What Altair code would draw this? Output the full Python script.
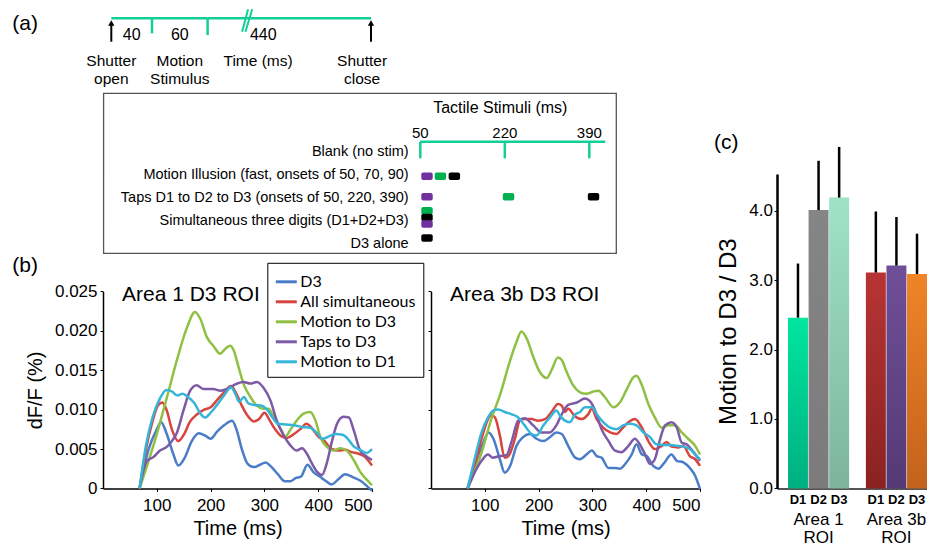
import altair as alt
import pandas as pd

FONT = "Liberation Sans"

# ---------------- (a) shutter timeline (schematic ms) ----------------
tl_edges = [0, 40, 100, 540]
tl_seg_text = ["40", "60", "440"]
tl_seg_text_t = [20, 70, 250]
tl_event_text = ["Shutter\nopen", "Motion\nStimulus", "Shutter\nclose"]
tl_event_t = [0, 70, 516]
tl_arrow_t = [0, 540]
tl_break_t0 = [193, 202]
tl_break_t1 = [209, 220]

# ---------------- (a) tactile stimuli ----------------
tac_rows = ["Blank (no stim)",
            "Motion Illusion (fast, onsets of 50, 70, 90)",
            "Taps D1 to D2 to D3 (onsets of 50, 220, 390)",
            "Simultaneous three digits (D1+D2+D3)",
            "D3 alone"]
tac_ticks = [50, 220, 390]
tac_line_end = 422
blk_row = [1, 1, 1, 2, 2, 2, 3, 3, 3, 4]
blk_digit = ["D1", "D2", "D3", "D1", "D2", "D3", "D2", "D3", "D1", "D3"]
blk_level = [0, 0, 0, 0, 0, 0, -1, 0, 1, 0]
blk_start = [52, 79, 107, 52, 216, 387, 52, 52, 52, 52]
blk_dur = 23
digits = ["D1", "D2", "D3"]

# ---------------- (b) dF/F traces (values x 0.001) ----------------
series_names = ["D3", "All simultaneous", "Motion to D3", "Taps to D3", "Motion to D1"]

a1_ms = {
    "D3": [68,85,100,108,118,130,140,152,165,178,190,200,212,225,240,248,258,268,280,292,302,312,325,338,348,358,368,380,392,403,415,425,438,450,465,480,492,500],
    "All simultaneous": [68,80,92,102,110,118,128,140,150,162,175,188,200,212,225,238,248,258,268,280,290,300,310,320,332,342,355,368,378,390,400,412,425,438,450,462,475,485,500],
    "Motion to D3": [68,81,100,119,137,156,171,181,193,205,218,227,236,243,252,261,274,286,298,308,317,330,339,348,360,373,385,395,404,416,429,441,453,466,478,491,500],
    "Taps to D3": [68,81,94,106,119,128,137,150,162,174,187,205,218,230,249,261,274,286,298,311,323,336,348,360,370,379,388,398,407,416,426,435,447,457,466,478,491,500],
    "Motion to D1": [68,80,92,105,118,128,138,148,158,170,182,190,200,212,225,238,246,253,262,270,280,295,305,315,325,340,355,370,385,398,408,420,432,445,455,465,478,490,500],
}
a1_val = {
    "D3": [0,5.0,7.5,8.4,7.0,4.5,2.9,3.9,6.0,7.0,6.7,6.3,7.2,8.0,8.6,7.5,5.0,3.2,2.7,3.0,3.3,2.8,1.8,0.9,0.9,1.3,1.5,3.0,2.0,1.5,0.9,0.5,1.2,1.8,1.4,0.9,0.2,-0.3],
    "All simultaneous": [0,5.0,8.5,10.5,10.9,10.0,7.5,6.0,6.8,8.5,9.4,10.0,10.3,11.2,12.2,13.0,12.0,10.5,9.3,8.5,8.8,9.6,8.6,7.5,6.6,6.4,6.9,7.6,8.2,7.5,6.6,6.0,5.0,4.8,4.9,4.6,4.4,4.1,2.9],
    "Motion to D3": [0,2.7,6.9,11.6,16.2,20.4,22.4,21.5,19.2,18.1,17.1,17.7,18.1,17.5,15.4,13.3,11.6,10.5,10.1,10.1,9.05,7.6,6.6,7.4,8.6,9.5,9.7,8.6,6.5,5.3,4.8,5.1,4.8,3.6,2.1,1.05,0.4],
    "Taps to D3": [0,3.4,4.0,4.8,5.3,6.0,7.0,10.0,12.4,13.1,12.6,12.6,12.4,12.6,13.3,13.5,13.3,13.5,12.8,11.2,8.6,6.7,5.5,4.8,5.1,4.4,3.2,2.1,1.7,3.2,6.1,8.2,9.1,9.0,7.4,4.8,4.0,3.6],
    "Motion to D1": [0,5.5,9.0,11.3,12.5,12.3,11.8,12.0,11.6,10.8,9.4,9.0,9.6,10.6,11.8,12.8,12.0,11.0,11.6,10.8,10.6,10.5,10.0,9.0,8.2,8.1,8.0,7.8,7.7,7.0,6.3,6.6,6.9,6.8,6.3,5.4,4.9,4.5,5.0],
}
a3_ms = {
    "D3": [68,81,97,107,116,128,137,147,159,171,184,196,209,221,233,243,255,268,277,289,299,308,317,330,342,351,361,373,382,392,401,413,423,432,447,457,469,481,491,500],
    "All simultaneous": [68,81,94,106,112,119,128,137,144,156,165,174,187,199,212,224,236,243,249,255,267,280,292,299,308,320,333,345,354,367,379,392,404,416,429,438,447,460,469,481,491,500],
    "Motion to D3": [68,94,112,128,146,159,168,178,190,202,215,224,236,243,252,264,277,289,302,311,323,339,351,364,376,382,392,404,416,429,441,454,466,478,491,500],
    "Taps to D3": [68,81,94,106,115,128,140,150,162,174,190,205,221,233,243,255,271,286,295,305,317,330,342,354,367,379,388,398,407,416,426,435,447,457,466,475,488,500],
    "Motion to D1": [68,81,94,106,116,125,137,150,162,174,187,196,209,221,233,240,249,258,268,277,286,299,308,320,333,345,357,370,382,395,407,419,432,444,457,469,481,491,500],
}
a3_val = {
    "D3": [0,2.85,5.8,7.1,6.3,3.7,2.0,2.85,5.4,6.5,6.9,6.3,6.0,6.5,7.1,6.9,5.4,3.9,3.7,4.3,4.8,4.1,3.9,2.6,2.6,2.5,3.1,4.3,5.6,4.3,4.1,2.85,2.5,3.1,4.3,3.5,3.3,2.6,1.6,-0.1],
    "All simultaneous": [0,2.85,6.3,8.8,9.3,9.0,6.7,3.9,4.1,6.3,8.6,8.8,8.8,8.6,8.8,9.7,10.7,10.5,9.7,10.1,9.2,8.8,9.4,10.1,8.8,7.7,7.1,6.9,7.5,8.4,8.8,7.7,6.0,5.0,5.4,5.9,5.3,5.2,5.4,4.1,3.7,2.85],
    "Motion to D3": [0,4.55,8.8,11.8,16.0,18.6,19.9,19.0,16.7,14.8,14.0,15.0,16.6,16.3,14.8,13.1,12.2,12.0,12.3,12.4,11.6,10.3,10.9,12.6,14.1,14.3,13.1,10.7,9.0,7.7,8.0,8.0,7.1,6.3,5.4,4.3],
    "Taps to D3": [0,2.0,3.5,4.3,3.9,4.1,4.2,6.0,8.6,8.9,8.0,7.1,7.1,8.0,9.4,10.6,10.9,11.4,11.1,9.9,7.5,6.0,4.8,4.6,5.4,6.3,5.6,4.3,3.1,3.7,6.3,8.0,8.4,7.7,5.8,5.6,4.6,3.5],
    "Motion to D1": [0,3.7,7.1,9.0,9.9,10.0,9.7,9.4,9.0,8.0,6.9,6.7,8.0,9.0,9.9,9.2,8.6,8.4,9.4,9.7,10.3,10.3,9.4,8.4,7.7,7.5,8.0,8.2,8.0,7.1,6.5,5.6,5.5,5.5,5.4,5.3,5.0,4.3,3.7],
}
b_xticks = [100, 200, 300, 400, 500]
b_yticks = [0, 0.005, 0.010, 0.015, 0.020, 0.025]

# ---------------- (c) ratio bars ----------------
c_area = ["Area 1|ROI"] * 3 + ["Area 3b|ROI"] * 3
c_digit = ["D1", "D2", "D3"] * 2
c_ratio = [2.46, 4.01, 4.19, 3.11, 3.21, 3.09]
c_upper = [3.24, 4.72, 4.92, 3.99, 3.91, 3.67]
c_yticks = [0, 1, 2, 3, 4]

# ---------------- styles ----------------
GREEN = "#12cf96"
blk_colors = ["#7030a0", "#00b050", "#000000"]
series_colors = ["#4a7cc8", "#d9443f", "#8fc043", "#7d5aa6", "#35b5d8"]
bar_top = ["#00e6a0", "#858585", "#9fe3c6", "#b83434", "#6f4f98", "#f08426"]
bar_bot = ["#00b080", "#7b7b7b", "#7db59c", "#8a2222", "#553a75", "#c4621c"]

# ---------------- layout ----------------
OX0, OY0 = 102.7, 8.0          # page position of the panel-(a)/(b) frame origin
AW, AH = 597.0, 282.0          # extent of panel (a) drawing coordinates
ROW_TOP = 173.9                # page y of the bottom-row frames
BW, BH = 269.0, 197.0
CW, CH = 150.0, 314.4
GAP = 59.0
C_LEFT = 776.0
B2_EXTRA = C_LEFT - (OX0 + 2 * BW + 2 * GAP)   # spare width right of b2 so that (c) lands at C_LEFT


def px_x(f):
    return alt.X(f, type="quantitative", scale=alt.Scale(domain=[OX0, OX0 + AW], range=[0, AW], nice=False), axis=None)


def px_y(f):
    return alt.Y(f, type="quantitative", scale=alt.Scale(domain=[OY0, OY0 + AH], range=[0, AH], nice=False), axis=None)


TL_RANGE = [111 - OX0, 151.7 - OX0, 207.3 - OX0, 370.7 - OX0]


def tl_x(f):
    return alt.X(f, type="quantitative", scale=alt.Scale(domain=tl_edges, range=TL_RANGE, nice=False), axis=None)


def ms_x(f):
    return alt.X(f, type="quantitative", scale=alt.Scale(domain=[50, 390], range=[420 - OX0, 589 - OX0], nice=False), axis=None)


def row_y(f):
    return alt.Y(f, type="quantitative", scale=alt.Scale(domain=[0, 4], range=[151.7 - OY0, 244 - OY0], nice=False), axis=None)


# ---- panel A layers ----
tl_h = pd.DataFrame({"t0": tl_edges[:-1], "t1": tl_edges[1:], "y": 18.3})
tl_v = pd.DataFrame({"t": tl_edges[1:3], "y0": 18.3, "y1": [33.3, 35.0]})
tl_b = pd.DataFrame({"t0": tl_break_t0, "t1": tl_break_t1, "y0": 31.7, "y1": 9.3})
tl_a = pd.DataFrame({"t": tl_arrow_t, "y0": 41.7, "y1": 25.0, "yh": 23.0})
tl_s = pd.DataFrame({"t": tl_seg_text_t, "text": tl_seg_text, "y": 35.0})
tl_e = pd.DataFrame({"t": tl_event_t, "text": tl_event_text, "y": 54.0})
tl_title = pd.DataFrame({"t": [236], "text": ["Time (ms)"], "y": 61.0})

layers_a = [
    alt.Chart(tl_h).mark_rule(color=GREEN, strokeWidth=2.5).encode(x=tl_x("t0"), x2="t1", y=px_y("y")),
    alt.Chart(tl_v).mark_rule(color=GREEN, strokeWidth=2.5).encode(x=tl_x("t"), y=px_y("y0"), y2="y1"),
    alt.Chart(tl_b).mark_rule(color=GREEN, strokeWidth=2).encode(x=tl_x("t0"), x2="t1", y=px_y("y0"), y2="y1"),
    alt.Chart(tl_a).mark_rule(color="black", strokeWidth=2).encode(x=tl_x("t"), y=px_y("y0"), y2="y1"),
    alt.Chart(tl_a).mark_point(shape="triangle-up", filled=True, size=40, color="black", opacity=1).encode(x=tl_x("t"), y=px_y("yh")),
    alt.Chart(tl_s).mark_text(fontSize=16, baseline="middle").encode(x=tl_x("t"), y=px_y("y"), text="text:N"),
    alt.Chart(tl_title).mark_text(fontSize=15.5, baseline="middle").encode(x=tl_x("t"), y=px_y("y"), text="text:N"),
    alt.Chart(tl_e).mark_text(fontSize=15.5, baseline="top", lineBreak="\n", lineHeight=18).encode(x=tl_x("t"), y=px_y("y"), text="text:N"),
]

a_lab = pd.DataFrame({"x": [12.0], "y": [24.0], "text": ["(a)"]})
box = pd.DataFrame({"x0": [103.3], "x1": [616.0], "y0": [93.3], "y1": [253.3]})
tac_title = pd.DataFrame({"x": [500.0], "y": [108.3], "text": ["Tactile Stimuli (ms)"]})
layers_a += [
    alt.Chart(a_lab).mark_text(fontSize=21, align="left", baseline="middle").encode(x=px_x("x"), y=px_y("y"), text="text:N"),
    alt.Chart(box).mark_rect(fillOpacity=0, stroke="#555555", strokeWidth=1.3).encode(x=px_x("x0"), x2="x1", y=px_y("y0"), y2="y1"),
    alt.Chart(tac_title).mark_text(fontSize=16, baseline="middle").encode(x=px_x("x"), y=px_y("y"), text="text:N"),
]

tac_h = pd.DataFrame({"m0": [tac_ticks[0]], "m1": [tac_line_end], "r": [-0.433]})
tac_v = pd.DataFrame({"m": tac_ticks, "r0": -0.433, "r1": 0.286})
tac_l = pd.DataFrame({"m": tac_ticks, "text": [str(t) for t in tac_ticks], "r": -0.8})
row_l = pd.DataFrame({"x": 408.3, "r": list(range(len(tac_rows))), "text": tac_rows})
blk = pd.DataFrame({"row": blk_row, "digit": blk_digit, "level": blk_level, "start": blk_start})
blk["end"] = blk["start"] + blk_dur
blk["ypos"] = blk["row"] + blk["level"] * 0.32 - 0.05

layers_a += [
    alt.Chart(tac_h).mark_rule(color=GREEN, strokeWidth=2.5).encode(x=ms_x("m0"), x2="m1", y=row_y("r")),
    alt.Chart(tac_v).mark_rule(color=GREEN, strokeWidth=2.5).encode(x=ms_x("m"), y=row_y("r0"), y2="r1"),
    alt.Chart(tac_l).mark_text(fontSize=15, baseline="middle").encode(x=ms_x("m"), y=row_y("r"), text="text:N"),
    alt.Chart(row_l).mark_text(fontSize=14.5, align="right", baseline="middle").encode(x=px_x("x"), y=row_y("r"), text="text:N"),
    alt.Chart(blk).mark_bar(size=7.5, cornerRadius=2).encode(
        x=ms_x("start"), x2="end", y=row_y("ypos"),
        color=alt.Color("digit:N", scale=alt.Scale(domain=digits, range=blk_colors), legend=None)),
]

panel_a = alt.layer(*layers_a).resolve_scale(x="independent", y="independent").properties(
    width=AW, height=ROW_TOP - OY0)


# ---- panel B ----
def series_df(ms_d, val_d):
    frames = []
    for name in series_names:
        frames.append(pd.DataFrame({"series": name, "ms": ms_d[name], "dff": [v / 1000 for v in val_d[name]]}))
    return pd.concat(frames, ignore_index=True)


B_TOP = CH - BH  # frame-local y of the top of the b plots


def line_panel(df, title, left, frame_w):
    if left:
        yaxis = alt.Axis(values=b_yticks, labelExpr="datum.value == 0 ? '0' : format(datum.value, '.3f')",
                         title="dF/F (%)", titlePadding=9, labelPadding=3, tickSize=3)
        legend = alt.Legend(title=None, orient="none", legendX=267 - OX0, legendY=262.7 - ROW_TOP,
                            symbolType="stroke", symbolSize=441, symbolStrokeWidth=3, labelFont="Lato",
                            labelFontSize=16, labelColor="black", padding=7, strokeColor="black",
                            fillColor="white", rowPadding=0, labelOffset=2)
    else:
        yaxis = alt.Axis(values=b_yticks, labels=False, title=None, tickSize=3)
        legend = None
    lines = alt.Chart(df).mark_line(interpolate="monotone", strokeWidth=2.5).encode(
        x=alt.X("ms:Q", scale=alt.Scale(domain=[0, 500], range=[0, BW], nice=False),
                axis=alt.Axis(values=b_xticks, title="Time (ms)", tickSize=3, labelPadding=6, titlePadding=5)),
        y=alt.Y("dff:Q", scale=alt.Scale(domain=[0, 0.025], range=[CH, B_TOP], nice=False), axis=yaxis),
        color=alt.Color("series:N", scale=alt.Scale(domain=series_names, range=series_colors), legend=legend),
    )
    ttl = alt.Chart(pd.DataFrame({"t": [title]})).mark_text(align="left", baseline="middle", fontSize=21).encode(
        text="t:N", x=alt.value(19), y=alt.value(B_TOP + 3.5))
    layers = [lines, ttl]
    if left:
        layers.append(alt.Chart(pd.DataFrame({"t": ["(b)"]})).mark_text(align="left", baseline="middle", fontSize=21).encode(
            text="t:N", x=alt.value(12 - OX0), y=alt.value(266 - ROW_TOP)))
    return alt.layer(*layers).properties(width=frame_w, height=CH)


b1 = line_panel(series_df(a1_ms, a1_val), "Area 1 D3 ROI", True, BW)
b2 = line_panel(series_df(a3_ms, a3_val), "Area 3b D3 ROI", False, BW + B2_EXTRA)

# ---- panel C ----
c_df = pd.DataFrame({"area": c_area, "digit": c_digit, "ratio": c_ratio, "upper": c_upper})
c_df["key"] = c_df["area"] + "/" + c_df["digit"]
area_domain = ["Area 1|ROI", "Area 3b|ROI"]

x_c = alt.X("area:N", scale=alt.Scale(domain=area_domain, paddingInner=0.215, paddingOuter=0.0706, align=1),
            axis=alt.Axis(title=None, labelAngle=0, labelExpr="split(datum.label, '|')", labelFontSize=17,
                          labelLineHeight=18, labelPadding=23, labelBaseline="top", ticks=False,
                          domainColor="#555555", domainWidth=2))
xo_c = alt.XOffset("digit:N", scale=alt.Scale(domain=digits, paddingInner=0.03, paddingOuter=0))
y_c = alt.Y("ratio:Q", scale=alt.Scale(domain=[0, 4.53], nice=False),
            axis=alt.Axis(values=c_yticks, format=".1f", title="Motion to D3 / D3", titleFontSize=24,
                          labelFontSize=17, tickSize=3, labelPadding=1.5, titlePadding=8,
                          domainWidth=2.5, domainColor="black"))

c_layers = []
for k, top, bot in zip(c_df["key"], bar_top, bar_bot):
    grad = alt.Gradient(gradient="linear", x1=1, x2=1, y1=0, y2=1,
                        stops=[alt.GradientStop(color=top, offset=0), alt.GradientStop(color=bot, offset=1)])
    c_layers.append(alt.Chart(c_df).transform_filter(alt.datum.key == k).mark_bar(color=grad).encode(
        x=x_c, xOffset=xo_c, y=y_c))
c_layers.append(alt.Chart(c_df).mark_rule(color="black", strokeWidth=2.5).encode(
    x=x_c, xOffset=xo_c, y=y_c, y2=alt.Y2("upper:Q")))
c_layers.append(alt.Chart(c_df).mark_text(fontWeight="bold", fontSize=13, baseline="middle").encode(
    x=x_c, xOffset=xo_c, y=alt.value(CH + 12), text="digit:N"))
c_layers.append(alt.Chart(pd.DataFrame({"t": ["(c)"]})).mark_text(align="left", baseline="middle", fontSize=21).encode(
    text="t:N", x=alt.value(713 - C_LEFT), y=alt.value(143 - ROW_TOP)))
panel_c = alt.layer(*c_layers).properties(width=CW, height=CH)

row = alt.hconcat(b1, b2, panel_c, spacing=GAP, bounds="flush").resolve_scale(color="independent")

chart = (
    alt.vconcat(panel_a, row, spacing=0, bounds="flush")
    .resolve_scale(color="independent")
    .properties(padding={"left": 4, "top": 0, "right": 0, "bottom": 0})
    .configure(font=FONT)
    .configure_view(stroke=None)
    .configure_axis(labelFont=FONT, titleFont=FONT, labelColor="black", titleColor="black",
                    titleFontWeight="normal", domainColor="black", domainWidth=1.5, tickColor="black",
                    grid=False, labelFontSize=17, titleFontSize=20)
    .configure_text(color="black")
)

chart.save("out.html", embed_options={"renderer": "svg", "actions": False})
